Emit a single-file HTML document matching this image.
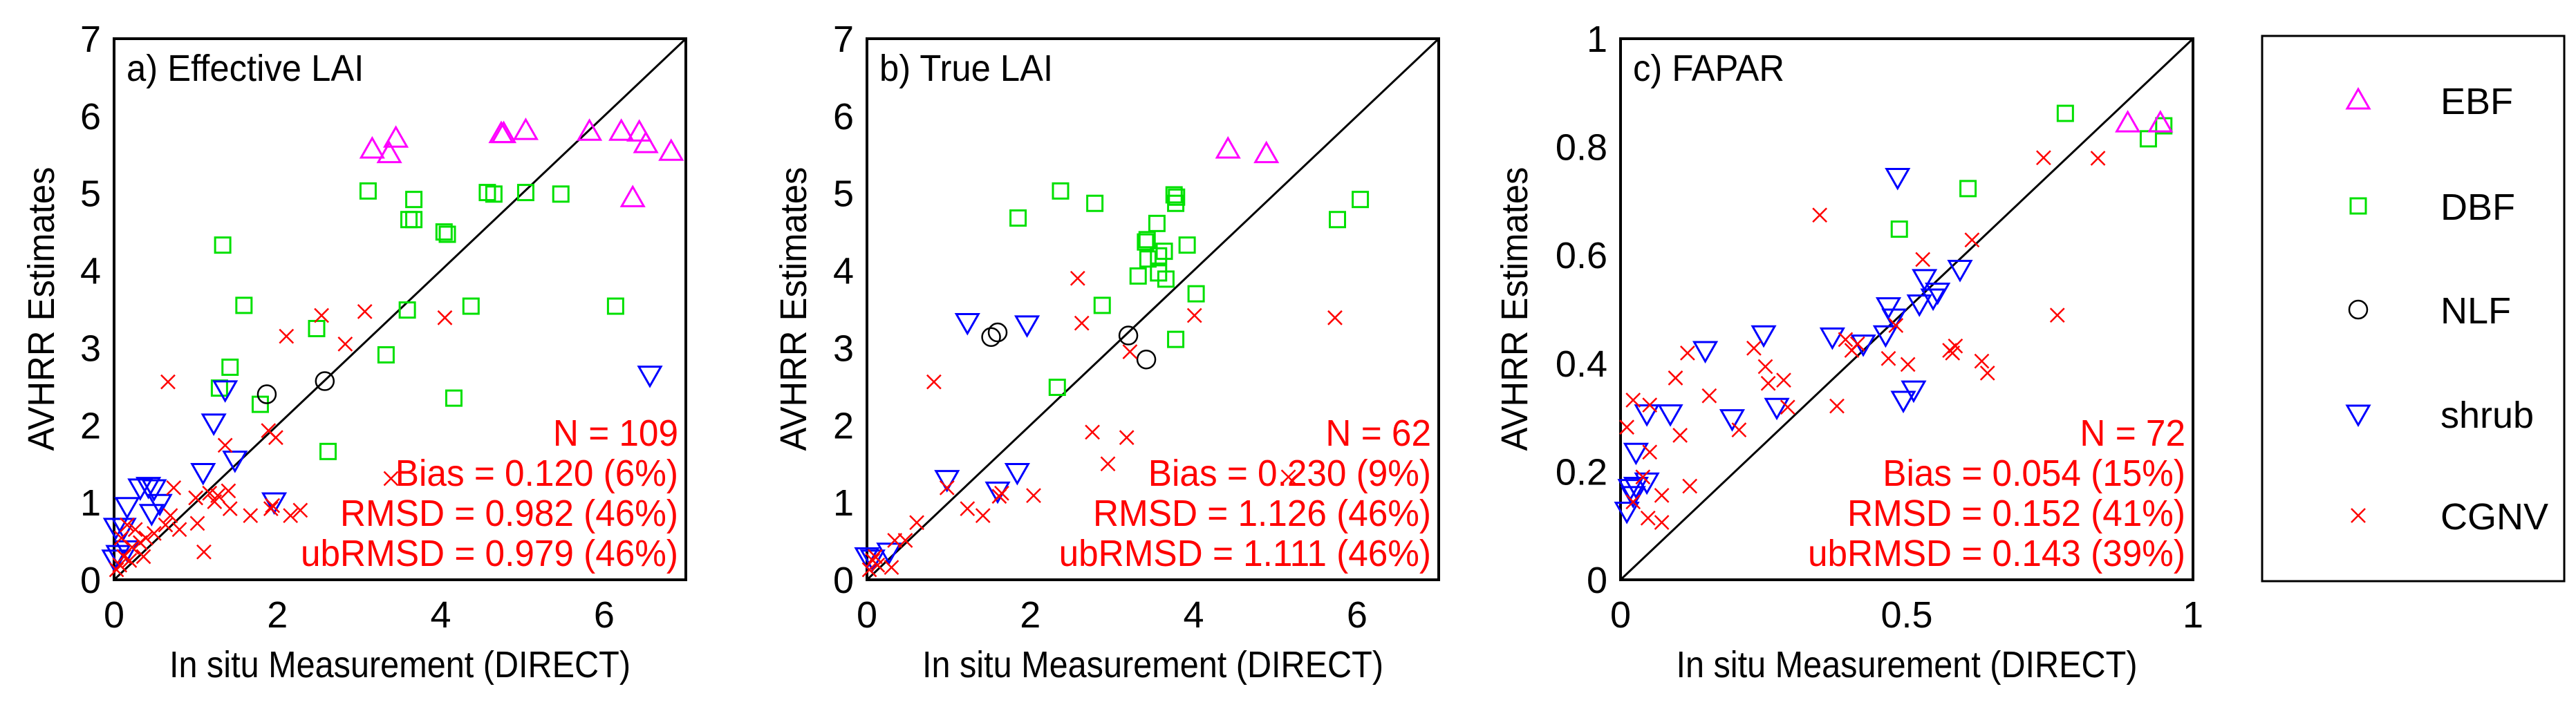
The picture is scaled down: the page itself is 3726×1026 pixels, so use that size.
<!DOCTYPE html>
<html><head><meta charset="utf-8"><style>
html,body{margin:0;padding:0;background:#fff;}
svg{display:block;font-family:"Liberation Sans",Arial,sans-serif;}
</style></head><body>
<svg id="chart" width="3726" height="1026" viewBox="0 0 3726 1026" xmlns="http://www.w3.org/2000/svg"></svg>
<script>
// ---- Panel a: Effective LAI ----
const aEBF=[[3.16,5.57],[3.37,5.51],[3.45,5.71],[4.74,5.77],[4.77,5.77],[5.04,5.81],[5.82,5.80],[6.21,5.80],[6.43,5.79],[6.51,5.64],[6.82,5.54],[6.35,4.94]];
const aDBF=[[3.11,5.03],[3.67,4.92],[3.61,4.66],[3.67,4.66],[4.04,4.50],[4.08,4.47],[4.57,5.01],[4.65,4.99],[5.04,5.01],[5.47,4.99],[1.33,4.33],[1.59,3.55],[2.48,3.25],[1.42,2.75],[3.59,3.49],[4.37,3.54],[3.33,2.91],[1.29,2.48],[1.79,2.27],[4.16,2.35],[2.62,1.66],[6.14,3.54]];
const aNLF=[[1.87,2.40],[2.58,2.57]];
const aShrub=[[1.36,2.46],[1.22,2.03],[1.48,1.55],[1.09,1.39],[6.56,2.65],[0.42,1.21],[0.32,1.19],[0.49,1.18],[0.56,0.99],[0.16,0.95],[0.46,0.86],[1.96,1.01],[0.02,0.68],[0.12,0.68],[0.16,0.39],[0.0,0.27],[0.05,0.33]];
const aCGNV=[[0.66,2.56],[2.54,3.42],[3.07,3.47],[2.11,3.15],[2.83,3.05],[4.05,3.39],[1.89,1.93],[1.98,1.84],[1.36,1.74],[0.73,1.19],[3.39,1.31],[1.0,1.06],[1.17,1.12],[1.27,1.09],[1.40,1.15],[1.23,1.01],[1.42,0.92],[1.67,0.83],[1.94,0.96],[1.92,0.92],[2.16,0.83],[2.28,0.90],[1.10,0.36],[1.02,0.73],[0.80,0.65],[0.69,0.83],[0.63,0.71],[0.49,0.60],[0.39,0.54],[0.32,0.48],[0.26,0.65],[0.22,0.42],[0.16,0.71],[0.12,0.30],[0.07,0.19],[0.09,0.54],[0.03,0.13],[0.19,0.25],[0.36,0.30]];
const aStats=["N = 109","Bias = 0.120 (6%)","RMSD = 0.982 (46%)","ubRMSD = 0.979 (46%)"];
// ---- Panel b: True LAI ----
const bEBF=[[4.42,5.57],[4.89,5.51]];
const bDBF=[[2.37,5.03],[2.79,4.87],[1.85,4.68],[3.76,4.98],[3.79,4.95],[3.78,4.87],[6.04,4.92],[5.76,4.66],[3.55,4.61],[3.43,4.40],[3.41,4.37],[3.64,4.25],[3.57,4.19],[3.92,4.33],[3.44,4.15],[3.32,3.93],[3.57,3.97],[3.66,3.89],[4.03,3.70],[2.88,3.55],[3.78,3.11],[2.33,2.49]];
const bNLF=[[1.52,3.14],[1.60,3.20],[3.20,3.16],[3.42,2.85]];
const bShrub=[[1.23,3.33],[1.96,3.30],[1.84,1.39],[0.98,1.30],[1.60,1.15],[0.27,0.36],[0.07,0.27],[0.0,0.30]];
const bCGNV=[[2.58,3.90],[2.63,3.32],[4.01,3.42],[5.73,3.39],[3.22,2.95],[0.82,2.56],[2.76,1.91],[3.18,1.84],[2.95,1.50],[2.04,1.09],[5.16,1.33],[0.98,1.19],[1.65,1.12],[1.62,1.08],[1.23,0.92],[1.42,0.83],[0.61,0.74],[0.47,0.51],[0.34,0.51],[0.30,0.16],[0.10,0.30],[0.07,0.25],[0.13,0.19],[0.03,0.13]];
const bStats=["N = 62","Bias = 0.230 (9%)","RMSD = 1.126 (46%)","ubRMSD = 1.111 (46%)"];
// ---- Panel c: FAPAR ----
const cEBF=[[0.886,0.844],[0.943,0.844]];
const cDBF=[[0.777,0.862],[0.607,0.723],[0.487,0.648],[0.922,0.815],[0.949,0.839]];
const cNLF=[];
const cShrub=[[0.484,0.744],[0.593,0.574],[0.531,0.557],[0.554,0.532],[0.546,0.521],[0.522,0.510],[0.468,0.505],[0.478,0.484],[0.463,0.453],[0.424,0.436],[0.370,0.449],[0.250,0.453],[0.148,0.424],[0.512,0.351],[0.494,0.332],[0.273,0.319],[0.195,0.298],[0.087,0.307],[0.046,0.307],[0.027,0.236],[0.017,0.169],[0.027,0.173],[0.046,0.181],[0.011,0.127],[0.022,0.156]];
const cCGNV=[[0.117,0.419],[0.096,0.373],[0.022,0.332],[0.051,0.323],[0.011,0.282],[0.104,0.267],[0.051,0.236],[0.039,0.190],[0.121,0.173],[0.072,0.156],[0.048,0.114],[0.072,0.106],[0.022,0.144],[0.739,0.780],[0.834,0.779],[0.348,0.674],[0.614,0.628],[0.528,0.592],[0.481,0.470],[0.763,0.489],[0.393,0.444],[0.404,0.424],[0.414,0.436],[0.468,0.409],[0.502,0.398],[0.575,0.424],[0.585,0.432],[0.580,0.419],[0.631,0.404],[0.641,0.382],[0.233,0.428],[0.253,0.394],[0.258,0.363],[0.285,0.369],[0.292,0.319],[0.378,0.321],[0.155,0.340],[0.207,0.277]];
const cStats=["N = 72","Bias = 0.054 (15%)","RMSD = 0.152 (41%)","ubRMSD = 0.143 (39%)"];
const lafTicks=["0","2","4","6"];
const laiYTicks=["0","1","2","3","4","5","6","7"];
const fXTicks=["0","0.5","1"];
const fYTicks=["0","0.2","0.4","0.6","0.8","1"];
const legendLabels=["EBF","DBF","NLF","shrub","CGNV"];

const NS="http://www.w3.org/2000/svg";
const svg=document.getElementById('chart');
function mk(tag,attrs,parent,text){const e=document.createElementNS(NS,tag);for(const k in attrs)e.setAttribute(k,attrs[k]);if(text!==undefined)e.textContent=text;(parent||svg).appendChild(e);return e;}
function squeeze(e,f){const w=e.getComputedTextLength();if(w>0){e.setAttribute('textLength',(w*f).toFixed(1));e.setAttribute('lengthAdjust','spacingAndGlyphs');}}
const COL={EBF:"#ff00ff",DBF:"#00e000",NLF:"#000000",shrub:"#0000ff",CGNV:"#ff0000"};
function marker(g,type,cx,cy){
  const c=COL[type];let e;
  if(type==="EBF")e=mk('polygon',{points:`${cx},${cy-16} ${cx-16},${cy+12} ${cx+16},${cy+12}`,fill:"none",stroke:c,"stroke-width":3},g);
  else if(type==="shrub")e=mk('polygon',{points:`${cx},${cy+16} ${cx-16},${cy-12} ${cx+16},${cy-12}`,fill:"none",stroke:c,"stroke-width":3},g);
  else if(type==="DBF")e=mk('rect',{x:cx-11,y:cy-11,width:22,height:22,fill:"none",stroke:c,"stroke-width":3},g);
  else if(type==="NLF")e=mk('circle',{cx:cx,cy:cy,r:13,fill:"none",stroke:c,"stroke-width":2.5},g);
  else e=mk('path',{d:`M${cx-10},${cy-10}L${cx+10},${cy+10}M${cx+10},${cy-10}L${cx-10},${cy+10}`,stroke:c,"stroke-width":2.5},g);
  return e;
}
const T=56,B=839;
function panel(id,L,R,max,xt,yt,title,series,stats,ytitleX){
  const g=mk('g',{});
  
  
  const sx=v=>L+v/max*(R-L), sy=v=>B-v/max*(B-T);
  const fr=mk('rect',{x:L,y:T,width:R-L,height:B-T,fill:"none",stroke:"#000","stroke-width":4},g);
  
  
  const d=mk('line',{x1:sx(0),y1:sy(0),x2:sx(max),y2:sy(max),stroke:"#000","stroke-width":3},g);
  
  
  xt.forEach(t=>{const e=mk('text',{x:sx(+t),y:908,"text-anchor":"middle","font-size":54},g,t);
    
    });
  yt.forEach(t=>{const e=mk('text',{x:L-19,y:sy(+t)+19,"text-anchor":"end","font-size":54},g,t);
    
    });
  const xtl=mk('text',{x:(L+R)/2,y:980,"text-anchor":"middle","font-size":54},g,"In situ Measurement (DIRECT)");
  
  
  squeeze(xtl,0.90);
  const ytl=mk('text',{x:ytitleX,y:447,"text-anchor":"middle","font-size":54,transform:`rotate(-90 ${ytitleX} 447)`,"dominant-baseline":"central"},g,"AVHRR Estimates");
  
  
  squeeze(ytl,0.94);
  const pt=mk('text',{x:L+18,y:117,"font-size":54},g,title);
  
  
  squeeze(pt,0.94);
  for(const [type,arr] of series){arr.forEach(p=>{const m=marker(g,type,sx(p[0]),sy(p[1]));
    
    });}
  stats.forEach((s,i)=>{const e=mk('text',{x:R-11,y:645+i*58,"text-anchor":"end","font-size":54,fill:"#ff0000"},g,s);
    
    
    squeeze(e,0.95);});
}
panel('panel-a-effective-lai',165,992,7,lafTicks,laiYTicks,"a) Effective LAI",[["DBF",aDBF],["EBF",aEBF],["NLF",aNLF],["shrub",aShrub],["CGNV",aCGNV]],aStats,60);
panel('panel-b-true-lai',1254,2081,7,lafTicks,laiYTicks,"b) True LAI",[["DBF",bDBF],["EBF",bEBF],["NLF",bNLF],["shrub",bShrub],["CGNV",bCGNV]],bStats,1148);
panel('panel-c-fapar',2344,3172,1,fXTicks,fYTicks,"c) FAPAR",[["DBF",cDBF],["EBF",cEBF],["NLF",cNLF],["shrub",cShrub],["CGNV",cCGNV]],cStats,2191);
// legend
const lg=mk('g',{});


mk('rect',{x:3272,y:52,width:437,height:789,fill:"none",stroke:"#000","stroke-width":3},lg);
const ly=[145,298,448,599,746];
legendLabels.forEach((l,i)=>{
  const e=mk('g',{},lg);
  
  
  marker(e,l,3411,ly[i]);
  mk('text',{x:3530,y:ly[i]+20,"font-size":54},e,l);
});
</script>
</body></html>
